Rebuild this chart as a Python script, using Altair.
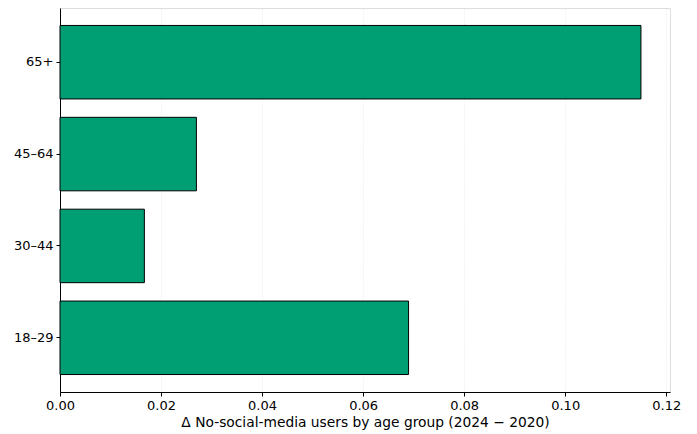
import altair as alt
import pandas as pd

# Change in share of people not using social media, 2024 vs 2020
age_groups = ["65+", "45–64", "30–44", "18–29"]
deltas = [0.115, 0.027, 0.0167, 0.069]
tick_values = [0.0, 0.02, 0.04, 0.06, 0.08, 0.10, 0.12]

df = pd.DataFrame({"age_group": age_groups, "delta": deltas})

FONT = "DejaVu Sans"

chart = (
    alt.Chart(df)
    .mark_bar(color="#009E73", stroke="black", strokeWidth=1)
    .encode(
        x=alt.X(
            "delta:Q",
            scale=alt.Scale(domain=[0, 0.12075], nice=False, zero=True),
            axis=alt.Axis(
                title="Δ No-social-media users by age group (2024 − 2020)",
                values=tick_values,
                format=".2f",
                labelFlush=False,
                grid=True,
                gridColor="#e4e4e4",
                gridDash=[1, 1.5],
                gridWidth=0.8,
                domainColor="black",
                tickColor="black",
                tickSize=4,
                labelColor="black",
                labelFont=FONT,
                labelFontSize=13,
                labelPadding=3,
                titleFont=FONT,
                titleFontSize=13.8,
                titleFontWeight="normal",
                titleColor="black",
                titlePadding=3,
            ),
        ),
        y=alt.Y(
            "age_group:N",
            sort=age_groups,
            scale=alt.Scale(paddingInner=0.2, paddingOuter=0.19),
            axis=alt.Axis(
                title=None,
                grid=False,
                domainColor="black",
                tickColor="black",
                tickSize=4,
                labelColor="black",
                labelFont=FONT,
                labelFontSize=13,
                labelPadding=3,
            ),
        ),
    )
    .properties(
        width=610,
        height=384,
        autosize=alt.AutoSizeParams(type="none"),
        padding={"left": 60, "top": 8, "right": 27, "bottom": 42},
    )
    .configure_view(stroke=None)
    .configure(background="white")
)

chart.save("out.html", embed_options={"renderer": "svg", "actions": False})
